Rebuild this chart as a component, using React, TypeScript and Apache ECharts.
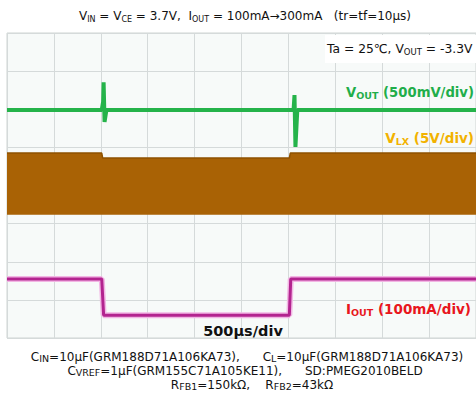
import React, { useEffect, useRef } from "react";
import * as echarts from "echarts";

// Time axis in divisions (500 µs/div), vertical axis in divisions (8 div screen)
const voutTime = [0, 2.02, 2.05, 2.06, 2.08, 2.12, 6.06, 6.11, 6.13, 6.15, 6.19, 10];
const voutDiv = [5.98, 5.98, 6.2, 6.71, 5.67, 5.98, 5.98, 5.98, 6.37, 5.01, 5.98, 5.98];

const vlxTime = [0, 2.02, 2.04, 6.02, 6.04, 10];
const vlxTopDiv = [4.85, 4.85, 4.72, 4.72, 4.85, 4.85];
const vlxBottomDiv = 3.23;

const ioutTime = [0, 2.02, 2.06, 6.02, 6.05, 10];
const ioutDiv = [1.55, 1.55, 0.6, 0.6, 1.55, 1.55];

const xDivisions = 10;
const yDivisions = 8;

function pairs(xs: number[], ys: number[]) {
  return xs.map((x, i) => [x, ys[i]]);
}

const FONT = "'DejaVu Sans', 'Liberation Sans', Arial, sans-serif";

export default function App() {
  const ref = useRef<HTMLDivElement>(null);
  useEffect(() => {
    if (!ref.current) return;
    const chart = echarts.init(ref.current, undefined, { renderer: "svg" });
    const sub = (size: number, weight: string, fill: string) => ({
      fontSize: size,
      fontFamily: FONT,
      fontWeight: weight,
      fill,
      verticalAlign: "bottom",
    });
    const norm = (size: number, weight: string, fill: string, lh: number) => ({
      fontSize: size,
      fontFamily: FONT,
      fontWeight: weight,
      fill,
      lineHeight: lh,
      verticalAlign: "middle",
    });
    const richFor = (size: number, subSize: number, weight: string, fill: string, lh: number) => ({
      n: norm(size, weight, fill, lh),
      s: sub(subSize, weight, fill),
    });

    chart.setOption({
      animation: false,
      backgroundColor: "#ffffff",
      grid: {
        left: 7,
        top: 33,
        width: 475,
        height: 305,
        show: true,
        backgroundColor: "#f7faf9",
        borderColor: "#cfd4d3",
        borderWidth: 1,
      },
      xAxis: {
        type: "value",
        min: 0,
        max: xDivisions,
        interval: 1,
        axisLine: { show: false },
        axisTick: { show: false },
        axisLabel: { show: false },
        splitLine: { show: true, lineStyle: { color: "#d5dada", width: 1 } },
      },
      yAxis: {
        type: "value",
        min: 0,
        max: yDivisions,
        interval: 1,
        axisLine: { show: false },
        axisTick: { show: false },
        axisLabel: { show: false },
        splitLine: { show: true, lineStyle: { color: "#d5dada", width: 1 } },
      },
      series: [
        {
          type: "line",
          name: "VLX",
          data: pairs(vlxTime, vlxTopDiv),
          showSymbol: false,
          lineStyle: { color: "#8f5200", width: 1.5 },
          areaStyle: { color: "#a96205", opacity: 1, origin: vlxBottomDiv },
          z: 2,
        },
        {
          type: "line",
          name: "VOUT",
          data: pairs(voutTime, voutDiv),
          showSymbol: false,
          lineStyle: { color: "#25b34a", width: 4 },
          z: 3,
        },
        {
          type: "line",
          name: "IOUT glow",
          data: pairs(ioutTime, ioutDiv),
          showSymbol: false,
          lineStyle: { color: "#f2b6e4", width: 6 },
          z: 3,
        },
        {
          type: "line",
          name: "IOUT",
          data: pairs(ioutTime, ioutDiv),
          showSymbol: false,
          lineStyle: { color: "#b3248f", width: 3 },
          z: 4,
        },
      ],
      graphic: [
        {
          type: "text",
          x: 245,
          y: 16,
          style: {
            text:
              "{n|V}{s|IN}{n| = V}{s|CE}{n| = 3.7V,  I}{s|OUT}{n| = 100mA→300mA   (tr=tf=10µs)}",
            rich: richFor(12, 8, "normal", "#111", 14),
            align: "center",
            verticalAlign: "middle",
          },
        },
        {
          type: "rect",
          shape: { x: 325, y: 35, width: 151, height: 28 },
          style: { fill: "#ffffff" },
          z: 10,
        },
        {
          type: "text",
          x: 327,
          y: 49,
          z: 11,
          style: {
            text: "{n|Ta = 25℃, V}{s|OUT}{n| = -3.3V}",
            rich: richFor(12.3, 8.5, "normal", "#111", 15),
            align: "left",
            verticalAlign: "middle",
          },
        },
        {
          type: "text",
          x: 474,
          y: 92,
          z: 11,
          style: {
            text: "{n|V}{s|OUT}{n| (500mV/div)}",
            rich: richFor(13.2, 9.5, "bold", "#1fae4a", 16),
            align: "right",
            verticalAlign: "middle",
          },
        },
        {
          type: "text",
          x: 474,
          y: 138,
          z: 11,
          style: {
            text: "{n|V}{s|LX}{n| (5V/div)}",
            rich: richFor(13.5, 9.5, "bold", "#f2b200", 16),
            align: "right",
            verticalAlign: "middle",
          },
        },
        {
          type: "text",
          x: 471,
          y: 309,
          z: 11,
          style: {
            text: "{n|I}{s|OUT}{n| (100mA/div)}",
            rich: richFor(13.5, 9.5, "bold", "#e8161c", 16),
            align: "right",
            verticalAlign: "middle",
          },
        },
        {
          type: "text",
          x: 243,
          y: 331,
          z: 11,
          style: {
            text: "500µs/div",
            font: "bold 14.5px " + FONT,
            fill: "#111",
            align: "center",
            verticalAlign: "middle",
          },
        },
        {
          type: "text",
          x: 247,
          y: 357,
          style: {
            text:
              "{n|C}{s|IN}{n|=10µF(GRM188D71A106KA73),      C}{s|L}{n|=10µF(GRM188D71A106KA73)}",
            rich: richFor(12, 9.5, "normal", "#111", 13),
            align: "center",
            verticalAlign: "middle",
          },
        },
        {
          type: "text",
          x: 245,
          y: 371,
          style: {
            text: "{n|C}{s|VREF}{n|=1µF(GRM155C71A105KE11),      SD:PMEG2010BELD}",
            rich: richFor(12, 9.5, "normal", "#111", 13),
            align: "center",
            verticalAlign: "middle",
          },
        },
        {
          type: "text",
          x: 252,
          y: 385,
          style: {
            text: "{n|R}{s|FB1}{n|=150kΩ,    R}{s|FB2}{n|=43kΩ}",
            rich: richFor(12, 9.5, "normal", "#111", 13),
            align: "center",
            verticalAlign: "middle",
          },
        },
      ],
    });
    return () => chart.dispose();
  }, []);
  return (
    <div
      ref={ref}
      style={{ position: "fixed", left: 0, top: 0, width: 476, height: 398 }}
    />
  );
}
